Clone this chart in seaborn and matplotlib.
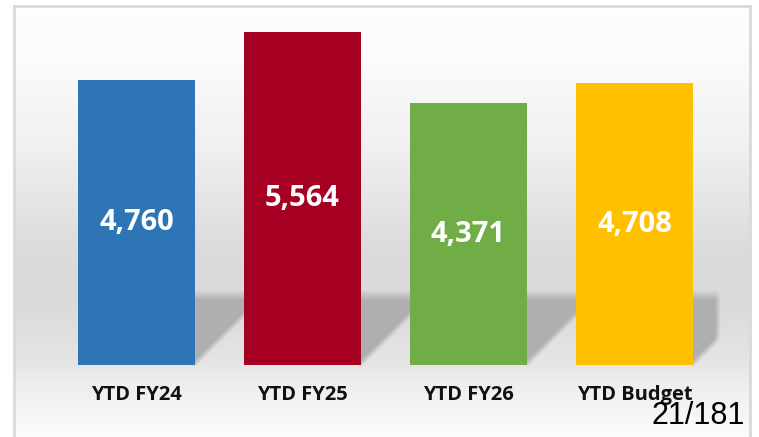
import matplotlib
matplotlib.use("Agg")
import matplotlib.pyplot as plt
import numpy as np
import seaborn as sns

# YTD 비교 데이터
categories = ["YTD FY24", "YTD FY25", "YTD FY26", "YTD Budget"]
values = [4760, 5564, 4371, 4708]
colors = ["#2E75B6", "#A50021", "#70AD47", "#FFC000"]
page_label = "21/181"

sns.set_style("white")
plt.rcParams["font.family"] = ["Open Sans", "DejaVu Sans"]

W, H = 759, 437
fig = plt.figure(figsize=(W / 100, H / 100), dpi=100)
# plot frame in pixels: x 14..750, y 6..437
ax = fig.add_axes([14 / W, 0, 736 / W, (H - 6) / H])

xlim = (-0.738, 3.696)
ylim = (-1202, 5995)
bar_w = 0.705

# background: soft grey gradient + floor shadow behind the bars
pw, ph = 736, 431
px = 14 + np.arange(pw) + 0.5
py = 6 + np.arange(ph) + 0.5
X, Y = np.meshgrid(px, py)
keys_y = [6, 60, 150, 250, 300, 365, 380, 437]
keys_v = [0.995, 0.985, 0.94, 0.86, 0.855, 0.90, 0.93, 0.985]
bg = np.interp(Y, keys_y, keys_v)


def to_px(d):
    return 14 + (d - xlim[0]) / (xlim[1] - xlim[0]) * pw


y0, yt = 364, 295
shade = np.zeros_like(bg)
for i in range(len(categories)):
    xr = to_px(i + bar_w / 2)
    top = np.clip((Y - yt) / 10 + 0.5, 0, 1)
    diag = np.clip(((y0 - (X - xr)) - Y) / 8 + 0.5, 0, 1)
    left = np.clip((X - xr) + 0.5, 0, 1)
    right = np.clip((718 - X) / 6 + 0.5, 0, 1)
    shade = np.maximum(shade, top * diag * left * right)
bg = bg * (1 - shade) + 0.69 * shade
img = np.dstack([bg, bg, bg])
ax.imshow(img, extent=(xlim[0], xlim[1], ylim[0], ylim[1]), origin="upper",
          aspect="auto", interpolation="bilinear", zorder=0)

sns.barplot(x=categories, y=values, hue=categories, palette=colors,
            width=bar_w, saturation=1, legend=False, ax=ax, zorder=2,
            linewidth=0, edgecolor="none")

ax.set_xlim(*xlim)
ax.set_ylim(*ylim)
ax.set_xticks([])
ax.set_yticks([])
ax.set_xlabel("")
ax.set_ylabel("")

# 막대 안 값 표시
for i, v in enumerate(values):
    ax.text(i, v / 2, f"{v:,}", color="white", fontsize=21, fontweight="bold",
            ha="center", va="center", zorder=3)

# 카테고리 라벨
for i, c in enumerate(categories):
    ax.text(i, -30 * 16.70, c, color="#111111", fontsize=14.5, fontweight="bold",
            ha="center", va="center", zorder=3)

for side in ["left", "top", "right"]:
    ax.spines[side].set_color("#d9d9d9")
    ax.spines[side].set_linewidth(2)
ax.spines["bottom"].set_visible(False)

fig.text(745 / W, (H - 424) / H, page_label, fontsize=22, ha="right",
         va="baseline", family=["Liberation Sans", "DejaVu Sans"], color="black")

fig.savefig("out.png", dpi=100, facecolor="white")
